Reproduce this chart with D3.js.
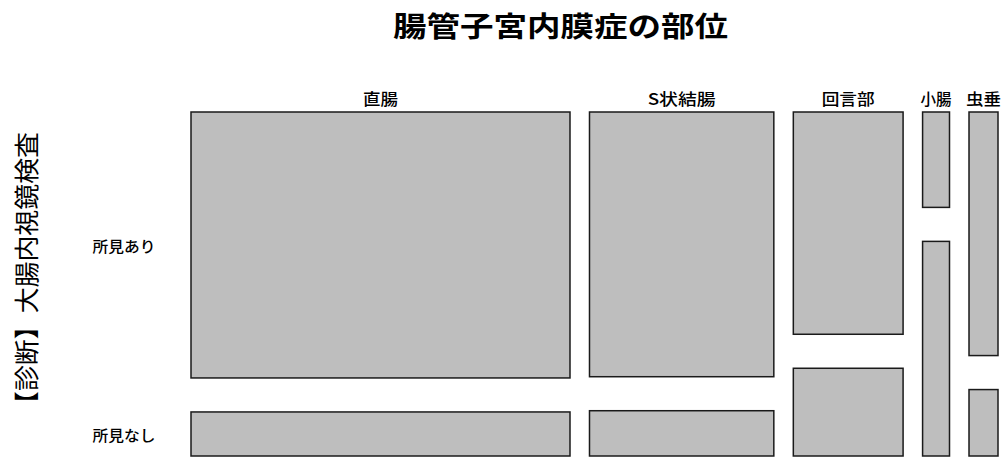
<!DOCTYPE html>
<html>
<head>
<meta charset="utf-8">
<script src="https://cdn.jsdelivr.net/npm/d3@7"></script>
<style>
  body { margin: 0; background: #fff; }
  text { font-family: "Noto Sans CJK JP", "Noto Sans", sans-serif; fill: #000; }
</style>
</head>
<body>
<div id="chart"></div>
<script>
// 部位ごとの件数
const sites = ['直腸', 'S状結腸', '回言部', '小腸', '虫垂'];
const rowLabels = ['所見あり', '所見なし'];
const withFindings = [157, 76, 38, 4, 11];
const noFindings = [26, 13, 15, 9, 3];

const width = 1003, height = 457;
const plotLeft = 191, plotRight = 998, plotTop = 112, plotBottom = 456;
const gapX = 19.5, gapY = 34;

const svg = d3.select('#chart').append('svg')
    .attr('width', width)
    .attr('height', height);

const totals = sites.map((s, i) => withFindings[i] + noFindings[i]);
const grand = d3.sum(totals);
const cum = d3.cumsum([0].concat(totals));

const innerW = (plotRight - plotLeft) - gapX * (sites.length - 1);
const innerH = (plotBottom - plotTop) - gapY;

const x = d3.scaleLinear().domain([0, grand]).range([0, innerW]);

const cols = sites.map((s, i) => {
  const x0 = plotLeft + x(cum[i]) + i * gapX;
  const x1 = x0 + x(totals[i]);
  const y = d3.scaleLinear().domain([0, totals[i]]).range([0, innerH]);
  const h1 = y(withFindings[i]);
  return {
    site: s, x0: x0, x1: x1,
    cells: [
      { y0: plotTop, y1: plotTop + h1 },
      { y0: plotTop + h1 + gapY, y1: plotBottom }
    ]
  };
});

// cells
cols.forEach(c => {
  svg.selectAll(null)
    .data(c.cells)
    .enter().append('rect')
      .attr('x', c.x0)
      .attr('y', d => d.y0)
      .attr('width', c.x1 - c.x0)
      .attr('height', d => d.y1 - d.y0)
      .attr('fill', '#bebebe')
      .attr('stroke', '#1a1a1a')
      .attr('stroke-width', 1.5);
});

// column labels
const labelW = [35, 68, 53, 31, 35];
svg.selectAll('.colLabel')
  .data(cols)
  .enter().append('text')
    .attr('class', 'colLabel')
    .attr('x', d => (d.x0 + d.x1) / 2)
    .attr('y', 98)
    .attr('text-anchor', 'middle')
    .attr('dominant-baseline', 'central')
    .attr('font-size', 16)
    .attr('font-weight', 500)
    .attr('textLength', (d, i) => labelW[i])
    .attr('lengthAdjust', 'spacingAndGlyphs')
    .text(d => d.site);

// row labels, centred on first column's cells
svg.selectAll('.rowLabel')
  .data(cols[0].cells)
  .enter().append('text')
    .attr('class', 'rowLabel')
    .attr('x', 124)
    .attr('y', d => (d.y0 + d.y1) / 2 + 1)
    .attr('text-anchor', 'middle')
    .attr('dominant-baseline', 'central')
    .attr('font-size', 14.5)
    .attr('font-weight', 500)
    .attr('textLength', 63)
    .attr('lengthAdjust', 'spacingAndGlyphs')
    .text((d, i) => rowLabels[i]);

// title
svg.append('text')
    .attr('x', 560.5)
    .attr('y', 25)
    .attr('text-anchor', 'middle')
    .attr('dominant-baseline', 'central')
    .attr('font-size', 28)
    .attr('font-weight', 'bold')
    .attr('textLength', 335)
    .attr('lengthAdjust', 'spacingAndGlyphs')
    .text('腸管子宮内膜症の部位');

// y axis title
svg.append('text')
    .attr('transform', 'translate(25,274.5) rotate(-90)')
    .attr('text-anchor', 'middle')
    .attr('dominant-baseline', 'central')
    .attr('font-size', 25)
    .attr('textLength', 285)
    .attr('lengthAdjust', 'spacingAndGlyphs')
    .text('【診断】大腸内視鏡検査');
</script>
</body>
</html>
